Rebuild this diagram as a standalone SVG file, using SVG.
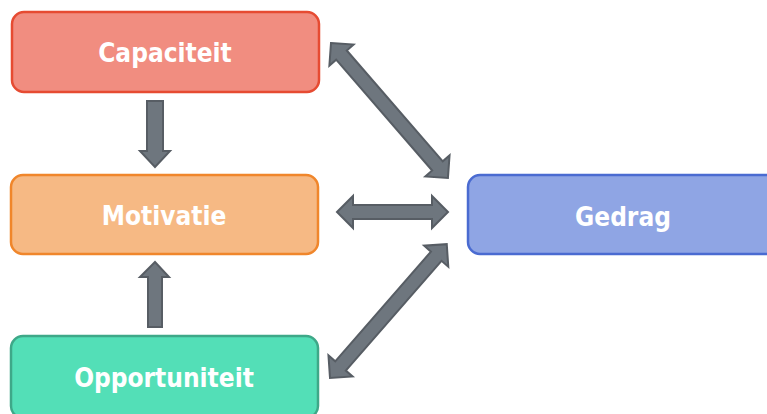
<svg xmlns="http://www.w3.org/2000/svg" width="767" height="414" viewBox="0 0 767 414">
  <style>
    .box { stroke-width: 2.5; }
    .lbl { font-family: "DejaVu Sans Condensed", "DejaVu Sans", "Liberation Sans", sans-serif; font-stretch: condensed; font-weight: bold; font-size: 26px; fill: #ffffff; text-anchor: middle; }
    .arr { fill: #6e767e; stroke: #575d64; stroke-width: 2; stroke-linejoin: miter; }
  </style>
  <rect width="767" height="414" fill="#ffffff"/>

  <g id="capaciteit">
    <rect class="box" x="12" y="12" width="307" height="80" rx="12" fill="#f18d80" stroke="#e64b32"/>
    <text class="lbl" x="165" y="62">Capaciteit</text>
  </g>
  <g id="motivatie">
    <rect class="box" x="11" y="175" width="307" height="79" rx="12" fill="#f6b984" stroke="#f0862b"/>
    <text class="lbl" x="164" y="225">Motivatie</text>
  </g>
  <g id="opportuniteit">
    <rect class="box" x="11" y="336" width="307" height="82" rx="12" fill="#53dfb7" stroke="#3ea888"/>
    <text class="lbl" x="164" y="387">Opportuniteit</text>
  </g>
  <g id="gedrag">
    <rect class="box" x="468" y="175" width="310" height="79" rx="12" fill="#8fa5e4" stroke="#4a6bd1"/>
    <text class="lbl" x="623" y="226">Gedrag</text>
  </g>

  <g id="connectors">
    <!-- Capaciteit -> Motivatie -->
    <path class="arr" d="M147,101 H163 V151 H170 L155,167 L140,151 H147 Z"/>
    <!-- Opportuniteit -> Motivatie -->
    <path class="arr" d="M148,327 H162 V277 H169 L155,262 L140,277 H148 Z"/>
    <!-- Motivatie <-> Gedrag -->
    <path class="arr" d="M337,212 L353,196 V205 H432 V196 L448,212 L432,228 V219 H353 V228 Z"/>
    <!-- Capaciteit <-> Gedrag -->
    <path class="arr" transform="translate(331,43) rotate(49.1)" d="M0,0 L16,-16 V-7 H162.6 V-16 L178.6,0 L162.6,16 V7 H16 V16 Z"/>
    <!-- Opportuniteit <-> Gedrag -->
    <path class="arr" transform="translate(330,378) rotate(-48.9)" d="M0,0 L16,-16 V-7 H161.6 V-16 L177.6,0 L161.6,16 V7 H16 V16 Z"/>
  </g>
</svg>
